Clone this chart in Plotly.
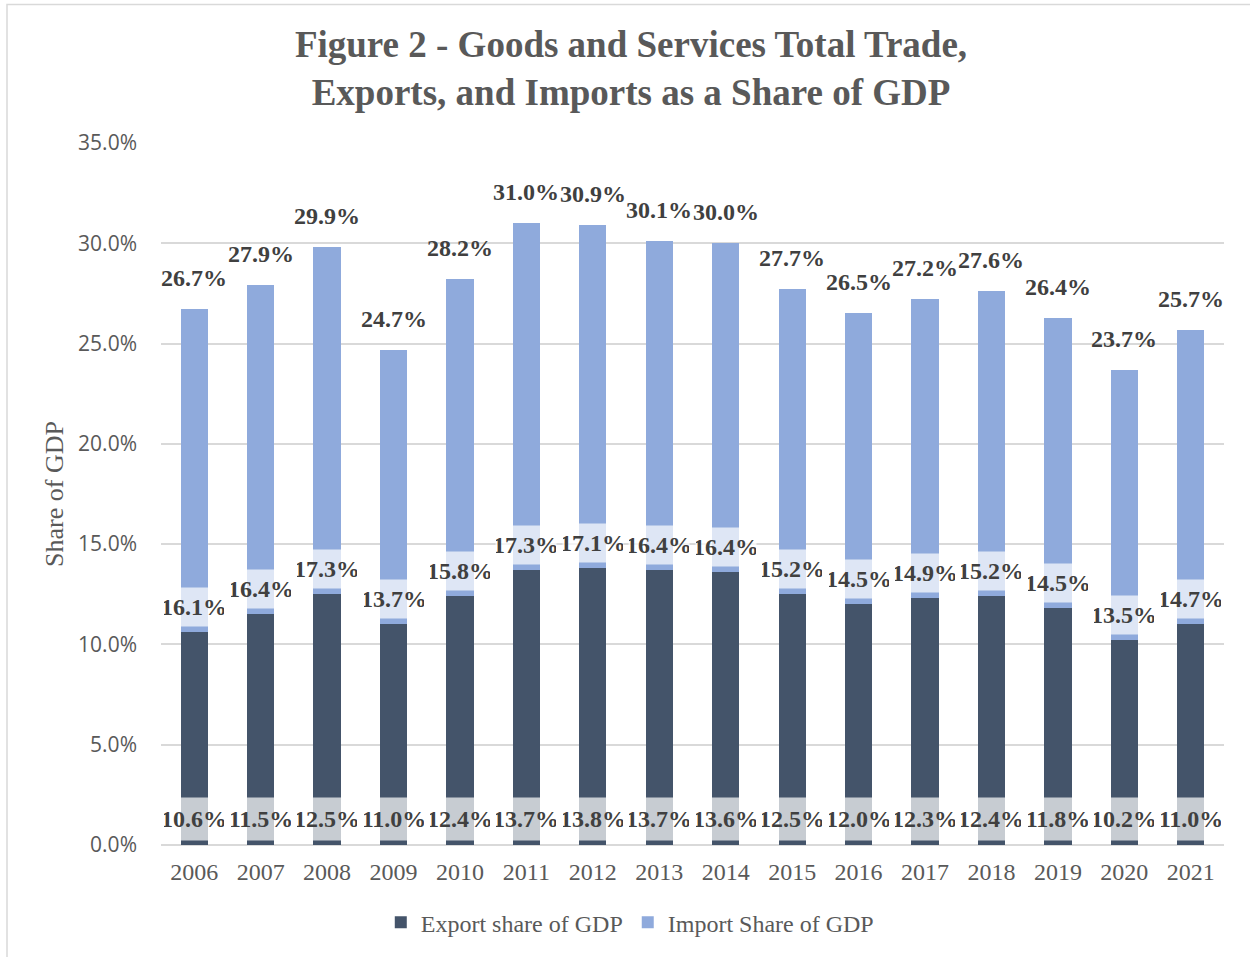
import plotly.graph_objects as go

years = ["2006", "2007", "2008", "2009", "2010", "2011", "2012", "2013",
         "2014", "2015", "2016", "2017", "2018", "2019", "2020", "2021"]
export_share = [10.6, 11.5, 12.5, 11.0, 12.4, 13.7, 13.8, 13.7,
                13.6, 12.5, 12.0, 12.3, 12.4, 11.8, 10.2, 11.0]
import_share = [16.1, 16.4, 17.3, 13.7, 15.8, 17.3, 17.1, 16.4,
                16.4, 15.2, 14.5, 14.9, 15.2, 14.5, 13.5, 14.7]
total_share = [26.7, 27.9, 29.9, 24.7, 28.2, 31.0, 30.9, 30.1,
               30.0, 27.7, 26.5, 27.2, 27.6, 26.4, 23.7, 25.7]

SERIF = "Liberation Serif, Times New Roman, serif"
SANS = "Open Sans, Noto Sans, sans-serif"
EXPORT_C = "#44546A"
IMPORT_C = "#8FAADC"
GRAY = "#595959"
LABEL_C = "#404040"

W, H = 1250, 957
T, B = 143, 109
PH = H - T - B

fig = go.Figure()
fig.add_trace(go.Bar(x=years, y=export_share, name="Export share of GDP",
                     marker=dict(color=EXPORT_C, line=dict(width=0))))
fig.add_trace(go.Bar(x=years, y=import_share, name="Import Share of GDP",
                     marker=dict(color=IMPORT_C, line=dict(width=0))))

annotations = []
label_font = dict(family=SERIF, size=24, color=LABEL_C, weight="bold")
box = "rgba(255,255,255,0.7)"
for idx, (e, i, t) in enumerate(zip(export_share, import_share, total_share)):
    annotations.append(dict(x=idx, y=0, xref="x", yref="y", text=f"{e:.1f}%",
                            showarrow=False, font=label_font, yshift=26,
                            bgcolor=box, height=42, width=60, borderpad=0))
    annotations.append(dict(x=idx, y=e, xref="x", yref="y", text=f"{i:.1f}%",
                            showarrow=False, font=label_font, yshift=25,
                            bgcolor=box, height=38, width=60, borderpad=0))
    annotations.append(dict(x=idx, y=e + i, xref="x", yref="y", text=f"{t:.1f}%",
                            showarrow=False, font=label_font, yshift=31))

fig.update_layout(
    barmode="stack",
    bargap=0.59,
    width=W, height=H,
    margin=dict(l=161, r=26, t=T, b=B),
    paper_bgcolor="white",
    plot_bgcolor="white",
    title=dict(text="Figure 2 - Goods and Services Total Trade,<br>Exports, and Imports as a Share of GDP",
               font=dict(family=SERIF, size=37, color=GRAY, weight="bold"),
               x=631 / W, xanchor="center", xref="container",
               y=1 - 57 / H, yanchor="middle", yref="container"),
    xaxis=dict(type="category", range=[-0.5, len(years) - 0.5],
               showgrid=False, showline=False, ticks="",
               tickfont=dict(family=SERIF, size=24, color=GRAY),
               ticklabelstandoff=10),
    yaxis=dict(range=[0, 35], dtick=5, tickformat=".1f", ticksuffix="%",
               showgrid=True, gridcolor="#D9D9D9", gridwidth=1.5,
               zeroline=True, zerolinecolor="#D9D9D9", zerolinewidth=1.5,
               showline=False, ticks="",
               tickfont=dict(family=SANS, size=21, color=GRAY),
               ticklabelstandoff=23,
               title=dict(text="Share of GDP", standoff=6,
                          font=dict(family=SERIF, size=26, color=GRAY))),
    legend=dict(orientation="h", traceorder="normal", x=0.441, xanchor="center",
                y=-(926 - (H - B)) / PH, yanchor="middle",
                font=dict(family=SERIF, size=24, color=GRAY),
                bgcolor="rgba(0,0,0,0)"),
    annotations=annotations,
    shapes=[dict(type="rect", xref="paper", yref="paper",
                 x0=(7 - 161) / 1063, x1=1.06,
                 y0=-0.2, y1=(T - 4) / PH + 1,
                 line=dict(color="#D9D9D9", width=1.5), fillcolor="rgba(0,0,0,0)",
                 layer="below")],
)

fig.write_html("out.html", config={"displayModeBar": False},
               post_script="document.body.style.margin='0px';")
